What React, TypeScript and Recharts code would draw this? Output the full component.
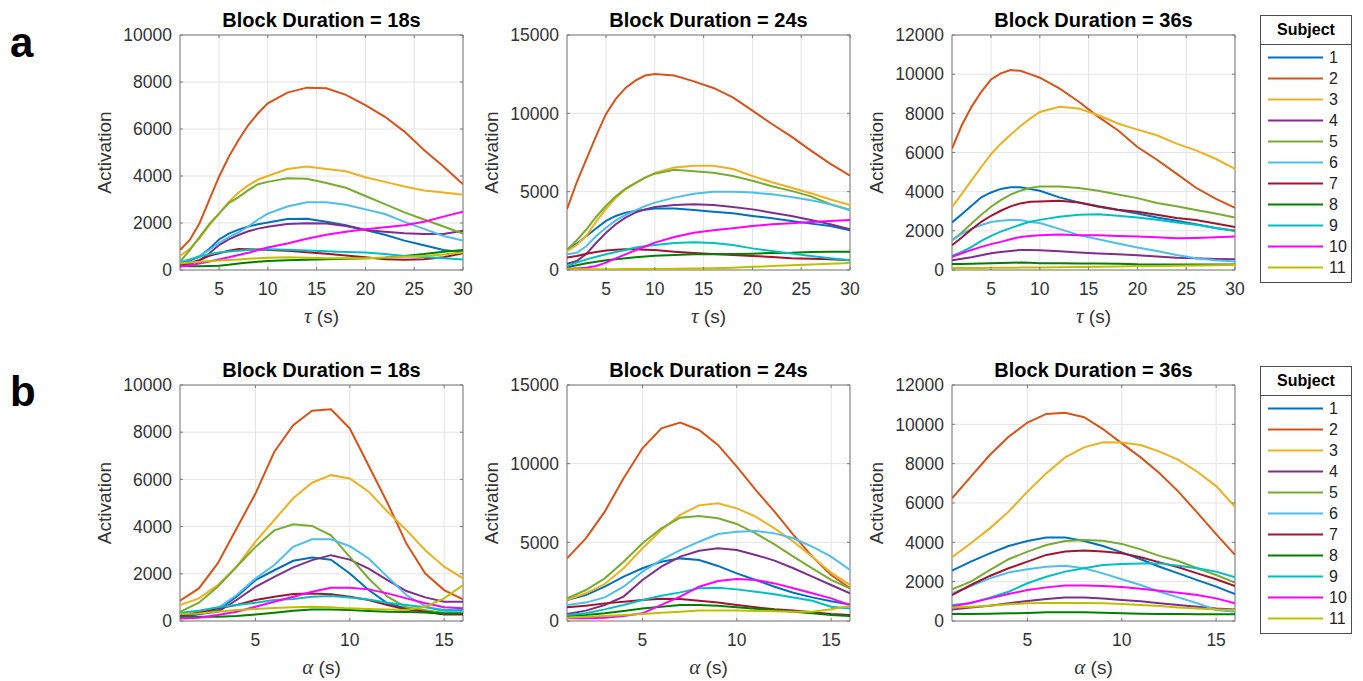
import { LineChart, Line, XAxis, YAxis, CartesianGrid, ReferenceArea } from 'recharts';

const FONT = '"Liberation Sans", Arial, Helvetica, sans-serif';

const COLORS = ['#0072BD', '#D95319', '#EDB120', '#7E2F8E', '#77AC30', '#4DBEEE', '#A2142F', '#008000', '#00C0C0', '#FF00FF', '#BFBF00'];
const SUBJECTS = ['1', '2', '3', '4', '5', '6', '7', '8', '9', '10', '11'];

const TAU_X = [1, 2, 3, 4, 5, 6, 7, 8, 9, 10, 12, 14, 16, 18, 20, 22, 24, 26, 28, 30];
const ALPHA_X = [1, 2, 3, 4, 5, 6, 7, 8, 9, 10, 11, 12, 13, 14, 15, 16];

const TAU_TICKS = [5, 10, 15, 20, 25, 30];
const ALPHA_TICKS = [5, 10, 15];
const Y_TICKS_18 = [0, 2000, 4000, 6000, 8000, 10000];
const Y_TICKS_24 = [0, 5000, 10000, 15000];
const Y_TICKS_36 = [0, 2000, 4000, 6000, 8000, 10000, 12000];

// row a: activation vs tau, one array per subject
const TAU_18 = [
    [280, 400, 570, 900, 1300, 1550, 1720, 1850, 1950, 2020, 2170, 2180, 2050, 1900, 1700, 1500, 1250, 1050, 850, 750],
    [850, 1280, 1990, 2980, 3970, 4820, 5530, 6170, 6670, 7090, 7550, 7760, 7730, 7450, 7020, 6520, 5890, 5110, 4400, 3650],
    [600, 900, 1350, 1900, 2400, 2900, 3300, 3600, 3850, 4000, 4300, 4400, 4300, 4200, 3950, 3750, 3550, 3380, 3300, 3200],
    [210, 250, 400, 700, 1060, 1300, 1490, 1650, 1760, 1840, 1960, 1990, 1980, 1870, 1700, 1630, 1560, 1530, 1530, 1670],
    [350, 850, 1400, 1950, 2400, 2850, 3100, 3400, 3650, 3750, 3900, 3880, 3700, 3500, 3150, 2800, 2450, 2150, 1850, 1550],
    [355, 450, 600, 850, 1150, 1400, 1600, 1850, 2150, 2400, 2700, 2880, 2880, 2780, 2580, 2380, 2050, 1750, 1450, 1250],
    [210, 300, 425, 600, 710, 820, 890, 880, 870, 850, 820, 760, 690, 620, 540, 460, 440, 460, 540, 710],
    [180, 160, 160, 170, 185, 220, 280, 320, 350, 380, 410, 440, 460, 480, 500, 520, 600, 680, 780, 850],
    [310, 430, 570, 670, 740, 790, 820, 850, 870, 880, 860, 830, 800, 770, 740, 680, 600, 550, 500, 450],
    [140, 200, 280, 360, 450, 540, 640, 730, 850, 960, 1130, 1330, 1500, 1630, 1730, 1820, 1900, 2050, 2270, 2480],
    [280, 320, 355, 380, 400, 430, 450, 480, 500, 520, 540, 520, 500, 500, 500, 530, 560, 600, 660, 750],
];

const TAU_24 = [
    [1250, 1680, 2170, 2660, 3130, 3450, 3660, 3770, 3850, 3920, 3920, 3830, 3720, 3620, 3450, 3300, 3130, 2960, 2810, 2530],
    [3890, 5600, 7090, 8580, 9960, 10920, 11620, 12090, 12410, 12510, 12410, 12040, 11620, 11020, 10170, 9320, 8510, 7620, 6770, 6020],
    [1200, 1600, 2200, 3100, 3900, 4600, 5150, 5550, 5900, 6200, 6550, 6650, 6650, 6450, 6000, 5600, 5250, 4900, 4500, 4150],
    [400, 575, 1040, 1740, 2380, 2920, 3340, 3660, 3870, 4020, 4150, 4190, 4150, 4020, 3870, 3660, 3450, 3190, 2920, 2600],
    [1300, 1900, 2600, 3400, 4100, 4700, 5200, 5550, 5900, 6150, 6400, 6300, 6200, 6000, 5700, 5350, 5050, 4700, 4200, 3850],
    [1000, 1100, 1530, 2170, 2700, 3170, 3510, 3810, 4080, 4300, 4620, 4870, 5000, 5000, 4940, 4830, 4660, 4450, 4190, 3810],
    [790, 890, 1040, 1150, 1250, 1300, 1320, 1320, 1300, 1280, 1170, 1085, 1020, 960, 890, 830, 745, 720, 680, 620],
    [190, 300, 425, 530, 620, 680, 745, 810, 860, 915, 960, 1000, 1000, 1020, 1040, 1085, 1100, 1150, 1170, 1170],
    [255, 470, 680, 850, 1000, 1150, 1280, 1430, 1520, 1600, 1720, 1770, 1720, 1600, 1380, 1210, 1060, 890, 745, 620],
    [100, 100, 150, 255, 470, 745, 1000, 1255, 1500, 1745, 2110, 2380, 2530, 2660, 2810, 2920, 2980, 3060, 3130, 3190],
    [40, 40, 45, 45, 50, 55, 60, 65, 68, 70, 80, 90, 110, 150, 200, 250, 300, 350, 400, 450],
];

const TAU_36 = [
    [2430, 2850, 3280, 3710, 3960, 4140, 4220, 4220, 4140, 4050, 3710, 3450, 3230, 3060, 2890, 2680, 2510, 2340, 2140, 2000],
    [6200, 7390, 8330, 9100, 9730, 10040, 10210, 10170, 10000, 9820, 9270, 8590, 7820, 7140, 6280, 5630, 4920, 4200, 3640, 3175],
    [3210, 3890, 4575, 5260, 5910, 6450, 6910, 7340, 7730, 8070, 8330, 8245, 7900, 7480, 7170, 6880, 6450, 6110, 5680, 5170],
    [500, 580, 650, 750, 855, 920, 975, 1025, 1025, 1010, 960, 890, 840, 800, 750, 685, 630, 600, 565, 550],
    [1520, 1910, 2375, 2820, 3230, 3570, 3850, 4050, 4190, 4270, 4270, 4190, 4050, 3850, 3670, 3420, 3250, 3060, 2890, 2680],
    [1500, 1850, 2100, 2300, 2450, 2520, 2550, 2550, 2450, 2400, 2100, 1780, 1570, 1350, 1145, 975, 770, 600, 495, 430],
    [1260, 1660, 2085, 2460, 2770, 3025, 3250, 3400, 3490, 3500, 3540, 3450, 3250, 3080, 2970, 2820, 2650, 2550, 2375, 2200],
    [300, 310, 320, 335, 350, 360, 370, 380, 375, 350, 340, 335, 330, 320, 290, 285, 280, 280, 280, 280],
    [720, 920, 1180, 1490, 1740, 1960, 2140, 2310, 2460, 2560, 2720, 2820, 2850, 2770, 2680, 2560, 2430, 2310, 2140, 2000],
    [670, 855, 1025, 1180, 1320, 1435, 1570, 1690, 1740, 1780, 1810, 1780, 1780, 1740, 1710, 1675, 1620, 1640, 1675, 1710],
    [100, 100, 105, 108, 110, 115, 118, 122, 126, 130, 140, 155, 170, 185, 200, 210, 220, 230, 240, 250],
];

// row b: activation vs alpha
const ALPHA_18 = [
    [180, 300, 465, 1030, 1730, 2150, 2550, 2690, 2600, 2010, 1310, 750, 535, 390, 300, 300],
    [860, 1380, 2440, 3920, 5400, 7170, 8300, 8910, 8970, 8160, 6580, 5000, 3280, 2010, 1310, 915],
    [680, 960, 1520, 2300, 3360, 4280, 5200, 5860, 6180, 6040, 5480, 4630, 3850, 3000, 2300, 1810],
    [210, 300, 390, 890, 1450, 1870, 2270, 2580, 2790, 2600, 2220, 1730, 1270, 1000, 815, 815],
    [390, 775, 1450, 2300, 3140, 3840, 4100, 4030, 3630, 2720, 1800, 1030, 580, 460, 350, 350],
    [320, 390, 535, 1100, 1800, 2370, 3140, 3460, 3460, 3170, 2650, 1870, 1100, 630, 390, 390],
    [250, 350, 535, 675, 890, 1030, 1140, 1170, 1130, 1030, 890, 675, 490, 390, 280, 280],
    [180, 180, 180, 210, 280, 350, 435, 490, 490, 465, 420, 390, 380, 365, 320, 320],
    [350, 435, 580, 675, 775, 890, 930, 1030, 1060, 1000, 915, 775, 675, 580, 465, 465],
    [110, 140, 250, 390, 605, 815, 1030, 1240, 1410, 1410, 1340, 1170, 960, 750, 580, 535],
    [300, 320, 390, 465, 510, 550, 580, 605, 580, 535, 510, 490, 465, 605, 960, 1520],
];

const ALPHA_24 = [
    [1340, 1650, 2180, 2820, 3350, 3770, 3980, 3880, 3500, 3030, 2610, 2180, 1800, 1500, 1250, 1050],
    [3980, 5250, 6950, 9070, 10980, 12250, 12610, 12140, 11190, 9810, 8330, 6950, 5470, 4090, 2920, 2080],
    [1340, 1760, 2350, 3350, 4620, 5780, 6740, 7350, 7480, 7160, 6630, 5890, 5040, 4090, 3070, 2290],
    [445, 660, 1020, 1550, 2610, 3450, 4090, 4470, 4620, 4510, 4200, 3840, 3350, 2820, 2290, 1760],
    [1440, 1970, 2710, 3770, 4940, 5890, 6570, 6670, 6530, 6170, 5570, 4870, 4090, 3350, 2610, 2080],
    [1020, 1170, 1500, 2180, 3140, 3880, 4510, 5040, 5530, 5680, 5720, 5570, 5260, 4730, 4090, 3240],
    [870, 975, 1120, 1230, 1340, 1420, 1400, 1290, 1170, 1020, 870, 740, 660, 550, 445, 380],
    [320, 380, 490, 640, 800, 910, 1020, 1020, 975, 870, 780, 700, 590, 490, 380, 320],
    [380, 490, 740, 1020, 1340, 1610, 1820, 2080, 2120, 2010, 1860, 1700, 1500, 1290, 910, 800],
    [170, 170, 210, 320, 490, 1020, 1550, 2180, 2540, 2670, 2610, 2390, 2080, 1760, 1440, 1020],
    [210, 275, 320, 380, 445, 530, 590, 660, 660, 660, 640, 615, 590, 590, 740, 950],
];

const ALPHA_36 = [
    [2560, 3020, 3440, 3810, 4070, 4250, 4250, 4070, 3810, 3490, 3140, 2760, 2420, 2080, 1750, 1370],
    [6240, 7340, 8440, 9370, 10090, 10530, 10590, 10360, 9760, 9030, 8320, 7510, 6580, 5510, 4420, 3360],
    [3240, 3950, 4710, 5560, 6580, 7510, 8320, 8830, 9090, 9070, 8950, 8610, 8190, 7590, 6860, 5810],
    [590, 680, 780, 900, 1020, 1120, 1190, 1190, 1150, 1070, 1000, 900, 810, 730, 640, 590],
    [1610, 2000, 2590, 3140, 3530, 3860, 4070, 4120, 4080, 3920, 3640, 3310, 3050, 2680, 2340, 1950],
    [1410, 1780, 2170, 2470, 2630, 2760, 2810, 2680, 2420, 2120, 1830, 1490, 1200, 900, 560, 475],
    [1320, 1830, 2290, 2680, 3020, 3360, 3530, 3580, 3530, 3440, 3240, 2980, 2730, 2420, 2120, 1780],
    [355, 355, 370, 390, 405, 440, 440, 440, 425, 390, 370, 355, 355, 340, 340, 340],
    [810, 900, 1190, 1490, 1920, 2250, 2510, 2680, 2850, 2900, 2930, 2930, 2810, 2680, 2510, 2220],
    [730, 930, 1150, 1370, 1580, 1710, 1800, 1800, 1780, 1730, 1640, 1540, 1440, 1320, 1150, 900],
    [690, 730, 780, 850, 900, 915, 915, 915, 900, 865, 810, 760, 690, 640, 590, 560],
];

const makeRows = (xs: number[], series: number[][]) =>
    xs.map((x, i) => {
        const row: Record<string, number> = { x };
        series.forEach((s, k) => { row[`s${k + 1}`] = s[i]; });
        return row;
    });

const PLOT_W = 283;
const Y_W = 90;
const M_TOP = 14;
const M_RIGHT = 14;
const X_H = 60;
const TICK_LEN = 3;
const FRAME = '#7a7a7a';

interface PanelProps {
    left: number;
    top: number;
    plotH: number;
    title: string;
    sym: string;
    xs: number[];
    series: number[][];
    xMax: number;
    xTicks: number[];
    yMax: number;
    yTicks: number[];
}

function Panel({ left, top, plotH, title, sym, xs, series, xMax, xTicks, yMax, yTicks }: PanelProps) {
    const data = makeRows(xs, series);
    const midY = M_TOP + plotH / 2;
    const bottom = M_TOP + plotH;
    const right = Y_W + PLOT_W;

    // tick label plus short inward tick marks on both opposite sides (MATLAB box style)
    const xTick = (p: any) => (
        <g>
            <line x1={p.x} x2={p.x} y1={bottom} y2={bottom - TICK_LEN} stroke={FRAME} />
            <line x1={p.x} x2={p.x} y1={M_TOP} y2={M_TOP + TICK_LEN} stroke={FRAME} />
            <text x={p.x} y={p.y} dy="0.71em" textAnchor="middle" fontSize={17.5} fill="#333" fontFamily={FONT}>{p.payload.value}</text>
        </g>
    );
    const yTick = (p: any) => (
        <g>
            <line x1={Y_W} x2={Y_W + TICK_LEN} y1={p.y} y2={p.y} stroke={FRAME} />
            <line x1={right} x2={right - TICK_LEN} y1={p.y} y2={p.y} stroke={FRAME} />
            <text x={p.x} y={p.y} dy="0.355em" textAnchor="end" fontSize={17.5} fill="#333" fontFamily={FONT}>{p.payload.value}</text>
        </g>
    );

    return (
        <>
            <div style={{ position: 'absolute', left: left - 20, top: top - 25, width: PLOT_W + 40, textAlign: 'center', fontWeight: 'bold', fontSize: 20, lineHeight: '20px', color: '#000', fontFamily: FONT, whiteSpace: 'nowrap' }}>
                {title}
            </div>
            <div style={{ position: 'absolute', left: left - Y_W, top: top - M_TOP }}>
                <LineChart width={Y_W + PLOT_W + M_RIGHT} height={M_TOP + plotH + X_H} data={data} margin={{ top: M_TOP, right: M_RIGHT, left: 0, bottom: 0 }}>
                    <CartesianGrid stroke="#e3e3e3" />
                    <XAxis
                        type="number"
                        dataKey="x"
                        domain={[1, xMax]}
                        ticks={xTicks}
                        interval={0}
                        height={X_H}
                        allowDataOverflow
                        axisLine={false}
                        tickLine={false}
                        tickSize={6}
                        tickMargin={7}
                        tick={xTick}
                        label={() => (
                            <text x={Y_W + PLOT_W / 2} y={bottom + 53} textAnchor="middle" fontSize={19} fill="#333" fontFamily={FONT}>
                                <tspan fontStyle="italic" fontFamily='"Liberation Serif", serif' fontSize={21}>{sym}</tspan>
                                <tspan> (s)</tspan>
                            </text>
                        )}
                    />
                    <YAxis
                        type="number"
                        domain={[0, yMax]}
                        ticks={yTicks}
                        interval={0}
                        width={Y_W}
                        allowDataOverflow
                        axisLine={false}
                        tickLine={false}
                        tickSize={4}
                        tickMargin={4}
                        tick={yTick}
                        label={() => (
                            <text x={14} y={midY} transform={`rotate(-90 14 ${midY})`} textAnchor="middle" dy="0.36em" fontSize={19} fill="#333" fontFamily={FONT}>
                                Activation
                            </text>
                        )}
                    />
                    <ReferenceArea x1={1} x2={xMax} y1={0} y2={yMax} fill="none" fillOpacity={0} stroke={FRAME} strokeWidth={1} />
                    {SUBJECTS.map((s, i) => (
                        <Line key={s} dataKey={`s${i + 1}`} type="linear" stroke={COLORS[i]} strokeWidth={2} dot={false} isAnimationActive={false} />
                    ))}
                </LineChart>
            </div>
        </>
    );
}

function SubjectLegend({ top }: { top: number }) {
    return (
        <div style={{ position: 'absolute', left: 1260, top, width: 92, height: 268, border: '1px solid #4d4d4d', boxSizing: 'border-box', background: '#fff', fontFamily: FONT }}>
            <div style={{ height: 28, borderBottom: '1px solid #4d4d4d', textAlign: 'center', fontWeight: 'bold', fontSize: 16, lineHeight: '28px', color: '#000' }}>Subject</div>
            <div style={{ paddingTop: 2 }}>
                {SUBJECTS.map((s, i) => (
                    <div key={s} style={{ height: 21, display: 'flex', alignItems: 'center' }}>
                        <svg width={62} height={21} style={{ display: 'block' }}>
                            <line x1={7} x2={62} y1={10.5} y2={10.5} stroke={COLORS[i]} strokeWidth={2} />
                        </svg>
                        <span style={{ marginLeft: 6, fontSize: 16, color: '#222' }}>{s}</span>
                    </div>
                ))}
            </div>
        </div>
    );
}

const COLS = [180, 567, 952];

export default function App() {
    return (
        <div style={{ position: 'absolute', left: 0, top: 0, width: 1363, height: 681, background: '#fff', fontFamily: FONT, overflow: 'hidden' }}>
            <div style={{ position: 'absolute', left: 10, top: 22, fontSize: 42, lineHeight: '42px', fontWeight: 'bold' }}>a</div>
            <div style={{ position: 'absolute', left: 10, top: 371, fontSize: 42, lineHeight: '42px', fontWeight: 'bold' }}>b</div>

            <Panel left={COLS[0]} top={35} plotH={235} title="Block Duration = 18s" sym="τ" xs={TAU_X} series={TAU_18} xMax={30} xTicks={TAU_TICKS} yMax={10000} yTicks={Y_TICKS_18} />
            <Panel left={COLS[1]} top={35} plotH={235} title="Block Duration = 24s" sym="τ" xs={TAU_X} series={TAU_24} xMax={30} xTicks={TAU_TICKS} yMax={15000} yTicks={Y_TICKS_24} />
            <Panel left={COLS[2]} top={35} plotH={235} title="Block Duration = 36s" sym="τ" xs={TAU_X} series={TAU_36} xMax={30} xTicks={TAU_TICKS} yMax={12000} yTicks={Y_TICKS_36} />

            <Panel left={COLS[0]} top={385} plotH={236} title="Block Duration = 18s" sym="α" xs={ALPHA_X} series={ALPHA_18} xMax={16} xTicks={ALPHA_TICKS} yMax={10000} yTicks={Y_TICKS_18} />
            <Panel left={COLS[1]} top={385} plotH={236} title="Block Duration = 24s" sym="α" xs={ALPHA_X} series={ALPHA_24} xMax={16} xTicks={ALPHA_TICKS} yMax={15000} yTicks={Y_TICKS_24} />
            <Panel left={COLS[2]} top={385} plotH={236} title="Block Duration = 36s" sym="α" xs={ALPHA_X} series={ALPHA_36} xMax={16} xTicks={ALPHA_TICKS} yMax={12000} yTicks={Y_TICKS_36} />

            <SubjectLegend top={15} />
            <SubjectLegend top={366} />
        </div>
    );
}
